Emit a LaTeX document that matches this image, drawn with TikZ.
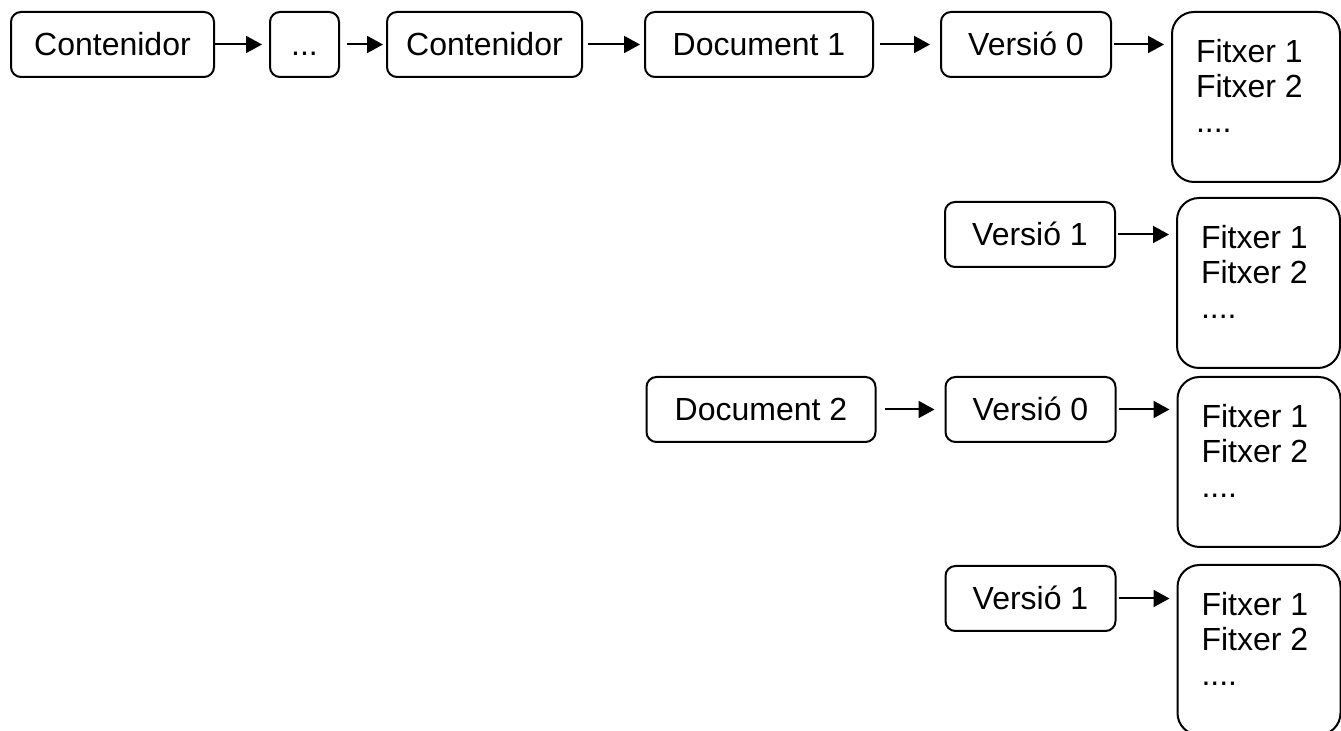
\documentclass[tikz,border=0pt]{standalone}
\usepackage{fontspec}
\setmainfont{Liberation Sans}
\usetikzlibrary{arrows.meta}
\usetikzlibrary{positioning}

\newcommand{\fitxers}[1]{\parbox[t][58pt][t]{#1}{\fontsize{16}{17.5}\selectfont Fitxer 1\\Fitxer 2\\....}}

\begin{document}
\begin{tikzpicture}[line width=1pt,font=\fontsize{16}{18.5}\selectfont]
\tikzstyle{b}=[draw,rounded corners=5pt,inner sep=0pt,outer sep=0pt,minimum height=32.5pt,text height=11.5pt,text depth=0pt]
\tikzstyle{f}=[draw,rounded corners=11pt,inner xsep=12pt,inner ysep=13.5pt,outer sep=0pt,anchor=north west]
\tikzstyle{a}=[-{Triangle[length=8pt,width=8.5pt]},shorten <=1.5pt,shorten >=4pt]
\useasboundingbox (0,0) rectangle (670.5pt,-365.5pt);
\node[b,minimum width=101.5pt,anchor=north west]	(C1)	at (5.5pt,-6pt)			{Contenidor};
\node[b,minimum width=34.5pt]	(dots)	[right=28pt of C1]		{...};
\node[b,minimum width=97.5pt]	(C2)	[right=24pt of dots]	{Contenidor};
\node[b,minimum width=114pt]	(D1)	[right=31.5pt of C2]	{Document 1};
\node[b,minimum width=85pt]	(V0)	[right=34pt of D1]		{Versió 0};
\node[f]	(F0)	[right=30.5pt of V0.north east,anchor=north west]	{\fitxers{60pt}};
\node[b,minimum width=85pt]	(V1)	[below=62.5pt of V0,xshift=2pt]	{Versió 1};
\node[f]	(F1)	[right=31pt of V1.north east,anchor=north west,yshift=2pt]	{\fitxers{57.5pt}};
\node[b,minimum width=114.5pt]	(D2)	[below=150pt of D1,xshift=1pt]	{Document 2};
\node[b,minimum width=85pt]	(V0b)	[right=35pt of D2]		{Versió 0};
\node[f]	(F2)	[right=31pt of V0b.north east,anchor=north west]	{\fitxers{57.5pt}};
\node[b,minimum width=85pt]	(V1b)	[below=62pt of V0b]		{Versió 1};
\node[f]	(F3)	[right=31pt of V1b.north east,anchor=north west,yshift=0.5pt]	{\fitxers{57.5pt}};
\path(C1)	edge	[a,shorten <=0pt]			(dots)
	 (dots)	edge	[a,shorten <=4pt,shorten >=2pt]	(C2)
	 (C2)	edge	[a,shorten <=3pt,shorten >=2.5pt]	(D1)
	 (D1)	edge	[a,shorten <=3.5pt,shorten >=5.5pt]	(V0)
	 (V0.east)	edge	[a]	(V0.east -| F0.west)
	 (V1.east)	edge	[a]	(V1.east -| F1.west)
	 (D2)	edge	[a,shorten <=4.5pt,shorten >=5.5pt]	(V0b)
	 (V0b.east)	edge	[a]	(V0b.east -| F2.west)
	 (V1b.east)	edge	[a]	(V1b.east -| F3.west);
\end{tikzpicture}
\end{document}
